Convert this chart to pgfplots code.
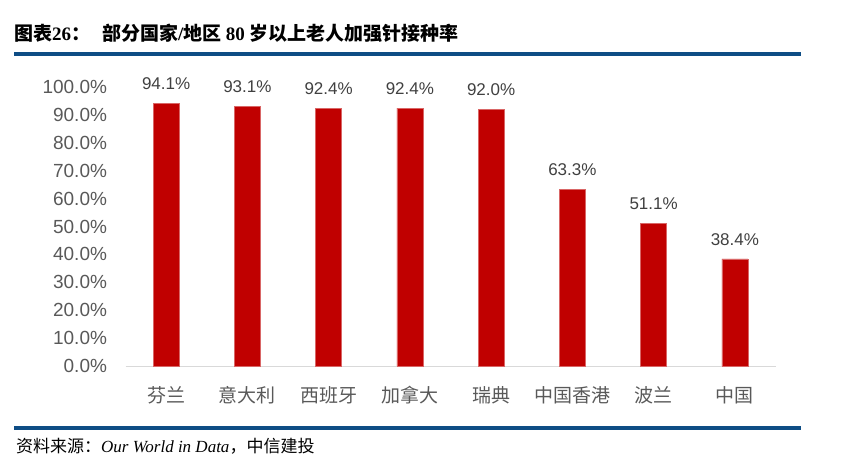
\documentclass[border=0pt]{standalone}
\usepackage{pgfplots}
\pgfplotsset{compat=1.18}
\usepackage{fontspec}
\setmainfont{Liberation Sans}
\newfontfamily\cjk{Noto Sans CJK SC}
\newfontfamily\cjkit{Noto Sans CJK SC}[AutoFakeSlant=0.2]
\newfontfamily\tnr{Liberation Serif}
\definecolor{barred}{HTML}{C00000}
\definecolor{rule}{HTML}{0E4D85}
\definecolor{txt}{HTML}{595959}
\definecolor{lbl}{HTML}{404040}
\begin{document}
\begin{tikzpicture}[x=1pt,y=1pt]
\useasboundingbox (0,0) rectangle (854,475);
% title
\node[anchor=base west,inner sep=0pt] at (14,434) {\fontsize{19}{21}\selectfont\cjk\bfseries 图表{\tnr\bfseries 26}：\hspace{12pt}部分国家{\tnr\bfseries /}地区 {\tnr\bfseries 80} 岁以上老人加强针接种率};
\fill[rule] (14,419) rectangle (801,423);
\fill[rule] (14,45) rectangle (801,49);
\node[anchor=base west,inner sep=0pt] at (16,23) {\fontsize{17}{19}\selectfont\cjkit 资料来源：{\tnr\itshape Our World in Data}，中信建投};
\begin{axis}[
  at={(125.5pt,109pt)}, anchor=south west,
  scale only axis, width=650pt, height=279pt,
  xmin=-0.5, xmax=7.5, ymin=0, ymax=100,
  axis x line*=bottom, axis y line*=left,
  x axis line style={draw=black!15, line width=1pt},
  y axis line style={draw=none},
  major tick length=0pt,
  xtick=data,
  xticklabels={芬兰,意大利,西班牙,加拿大,瑞典,中国香港,波兰,中国},
  xticklabel style={font=\fontsize{19}{21}\selectfont\cjk, text=txt, yshift=-17pt},
  ytick={0,10,...,100},
  /pgf/number format/assume math mode=true,
  yticklabel={\pgfmathprintnumber[fixed,fixed zerofill,precision=1]{\tick}\%},
  yticklabel style={font=\fontsize{19}{21}\selectfont, text=txt, xshift=-15pt},
  ybar, bar width=26pt,
  nodes near coords={\pgfmathprintnumber[fixed,fixed zerofill,precision=1]{\pgfplotspointmeta}\%},
  nodes near coords style={font=\fontsize{17}{19}\selectfont, text=lbl, yshift=10pt},
  clip=false,
]
\addplot[fill=barred, draw=barred!60!white, line width=0.6pt] coordinates {
  (0,94.1) (1,93.1) (2,92.4) (3,92.4) (4,92.0) (5,63.3) (6,51.1) (7,38.4)};
\end{axis}
\end{tikzpicture}
\end{document}
